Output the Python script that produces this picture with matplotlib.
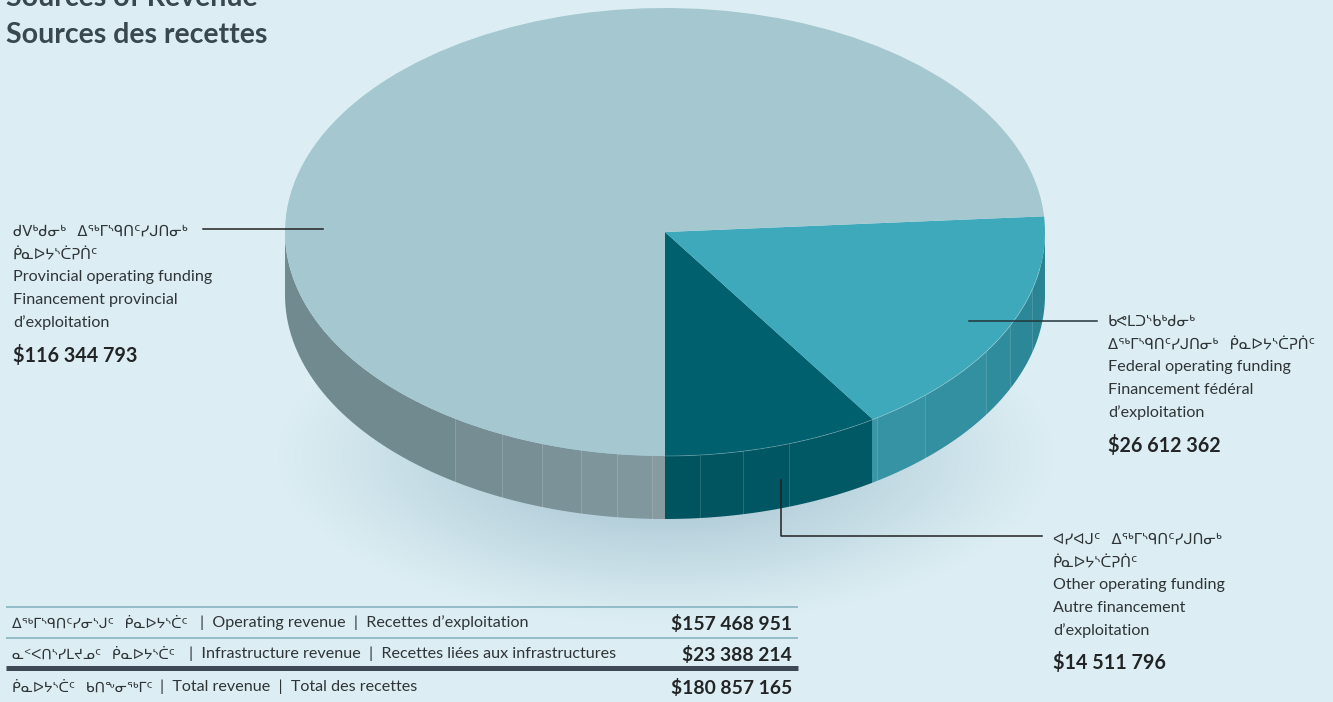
import numpy as np
import matplotlib
matplotlib.use('Agg')
import matplotlib.pyplot as plt
from matplotlib.colors import to_rgb

# Data
slice_names = ['Other', 'Federal', 'Provincial']
slice_values = [14511796, 26612362, 116344793]
slice_top = ['#00606e', '#3ea9bb', '#a5c7d0']
amount_labels = ['$14 511 796', '$26 612 362', '$116 344 793']

rows_syll = ['ᐃᖅᒥᔅᑫᑎᑦᓯᓂᔅᒍᑦ   ᑮᓇᐅᔭᔅᑖᑦ', 'ᓇᑉᐸᑎᔅᓯᒪᔪᓄᑦ   ᑮᓇᐅᔭᔅᑖᑦ', 'ᑮᓇᐅᔭᔅᑖᑦ   ᑲᑎᖕᓂᖅᒥᑦ']
rows_text = [
    '|  Operating revenue  |  Recettes d’exploitation',
    '|  Infrastructure revenue  |  Recettes liées aux infrastructures',
    '|  Total revenue  |  Total des recettes',
]
rows_amount = ['$157 468 951', '$23 388 214', '$180 857 165']

BG = '#dceef3'
INK = '#2f3437'
FONT = ['Lato', 'DejaVu Sans']

W, H = 1333, 702
cx, cy, rx, ry, depth = 665, 232, 380, 224, 63

fig = plt.figure(figsize=(W / 100, H / 100), dpi=100, facecolor=BG)

# back layer in pixel coordinates: soft shadow and side wall
back = fig.add_axes([0, 0, 1, 1], zorder=0)
back.set_xlim(0, W)
back.set_ylim(H, 0)
back.axis('off')

gx, gy = np.meshgrid(np.arange(W), np.arange(H))
dist = np.sqrt(((gx - cx) / 390) ** 2 + ((gy - 455) / 168) ** 2)
shade = np.zeros((H, W, 4))
shade[..., :3] = to_rgb('#8fb2c4')
shade[..., 3] = np.clip(1 - dist, 0, 1) ** 1.05 * 0.85
back.imshow(shade, extent=(0, W, H, 0), aspect='auto', zorder=1)


def wall(a0, a1, color):
    a = np.radians(np.linspace(a0, a1, 40))
    x = cx + rx * np.cos(a)
    y = cy - ry * np.sin(a)
    back.fill(np.r_[x, x[::-1]], np.r_[y, y[::-1] + depth], color=color, lw=0, zorder=2)


def ang(x):
    # front rim angle for a pixel x
    return -np.degrees(np.arccos((x - cx) / rx))


# facet seams on the wall, as pixel x
prov_seams = [285, 455, 502, 542, 581, 617, 652, 665]
prov_cols = ['#718a8f', '#758d93', '#788f95', '#7a9298', '#7d959b', '#80979d', '#869a9f']
fed_seams = [872, 877, 925, 986, 1010, 1032, 1045]
fed_cols = ['#3a95a5', '#3593a3', '#3290a0', '#2f8c9c', '#2c8898', '#2a8494']
oth_seams = [665, 700, 743, 789, 872]
oth_cols = ['#00545f', '#005561', '#005662', '#005965']

for seams, cols in [(prov_seams, prov_cols), (fed_seams, fed_cols), (oth_seams, oth_cols)]:
    for i, col in enumerate(cols):
        wall(ang(seams[i]), ang(seams[i + 1]), col)
    for sx in seams[1:-1]:
        a = np.radians(ang(sx))
        top_y = cy - ry * np.sin(a)
        back.plot([sx, sx], [top_y, top_y + depth], color='white', alpha=0.15, lw=0.7, zorder=3)

# top face: a real pie squeezed into the ellipse box
pie_ax = fig.add_axes([(cx - rx) / W, 1 - (cy + ry) / H, 2 * rx / W, 2 * ry / H], zorder=1)
pie_ax.pie(slice_values, colors=slice_top, startangle=-90, counterclock=True, radius=1,
           wedgeprops={'linewidth': 0})
pie_ax.set_aspect('auto')
pie_ax.set_xlim(-1, 1)
pie_ax.set_ylim(-1, 1)
pie_ax.patch.set_alpha(0)

# top layer: leaders and text
top = fig.add_axes([0, 0, 1, 1], zorder=2)
top.set_xlim(0, W)
top.set_ylim(H, 0)
top.axis('off')
top.patch.set_alpha(0)

# thin light edge on the front rim
rim = np.radians(np.linspace(ang(665), ang(1040), 80))
top.plot(cx + rx * np.cos(rim), cy - ry * np.sin(rim), color='white', alpha=0.25, lw=0.6)

top.plot([203, 323], [229, 229], color='#222222', lw=1.1)
top.plot([969, 1097], [321, 321], color='#22363c', lw=1.1)
top.plot([781, 781, 1042], [480, 536, 536], color='#222222', lw=1.1)


def label(x, y, syll, lines, amount):
    for i, s in enumerate(syll):
        top.text(x, y + i * 22.7, s, fontsize=10.6, family=FONT, color=INK, va='center')
    for i, s in enumerate(lines):
        top.text(x, y + (i + 2) * 22.7, s, fontsize=11.6, family=FONT, color=INK, va='center')
    top.text(x, y + 5 * 22.7 + 10, amount, fontsize=14.2, family=FONT,
             fontweight='bold', color='#222426', va='center')


label(13, 232, ['ᑯᐯᒃᑯᓂᒃ   ᐃᖅᒥᔅᑫᑎᑦᓯᒍᑎᓂᒃ', 'ᑮᓇᐅᔭᔅᑖᕈᑏᑦ'],
      ['Provincial operating funding', 'Financement provincial', 'd’exploitation'], amount_labels[2])
label(1108, 322, ['ᑲᕙᒪᑐᔅᑲᒃᑯᓂᒃ', 'ᐃᖅᒥᔅᑫᑎᑦᓯᒍᑎᓂᒃ   ᑮᓇᐅᔭᔅᑖᕈᑏᑦ'],
      ['Federal operating funding', 'Financement fédéral', 'd’exploitation'], amount_labels[1])
label(1053, 539.5, ['ᐊᓯᐊᒍᑦ   ᐃᖅᒥᔅᑫᑎᑦᓯᒍᑎᓂᒃ', 'ᑮᓇᐅᔭᔅᑖᕈᑏᑦ'],
      ['Other operating funding', 'Autre financement', 'd’exploitation'], amount_labels[0])

top.text(6, 35, 'Sources des recettes', fontsize=20.5, family=FONT, fontweight='bold',
         color='#39474f', va='center')
top.text(6, -2, 'Sources of Revenue', fontsize=20.5, family=FONT, fontweight='bold',
         color='#39474f', va='center', clip_on=True)

# summary table
top.plot([6, 798], [607, 607], color='#8db8c5', lw=1.3, solid_capstyle='butt')
top.plot([6, 798], [638, 638], color='#8db8c5', lw=1.3, solid_capstyle='butt')
top.plot([6, 798], [667.5, 667.5], color='#3d4a55', lw=3.6, solid_capstyle='butt')
for y, sy, tx, s, a in zip([623, 654, 687], rows_syll, [200, 189, 160], rows_text, rows_amount):
    top.text(12, y, sy, fontsize=10.2, family=FONT, color=INK, va='center')
    top.text(tx, y, s, fontsize=11.6, family=FONT, color=INK, va='center')
    top.text(792, y + 1, a, fontsize=13.9, family=FONT, fontweight='bold', color='#222426',
             va='center', ha='right')

fig.savefig('out.png', dpi=100, facecolor=BG)
